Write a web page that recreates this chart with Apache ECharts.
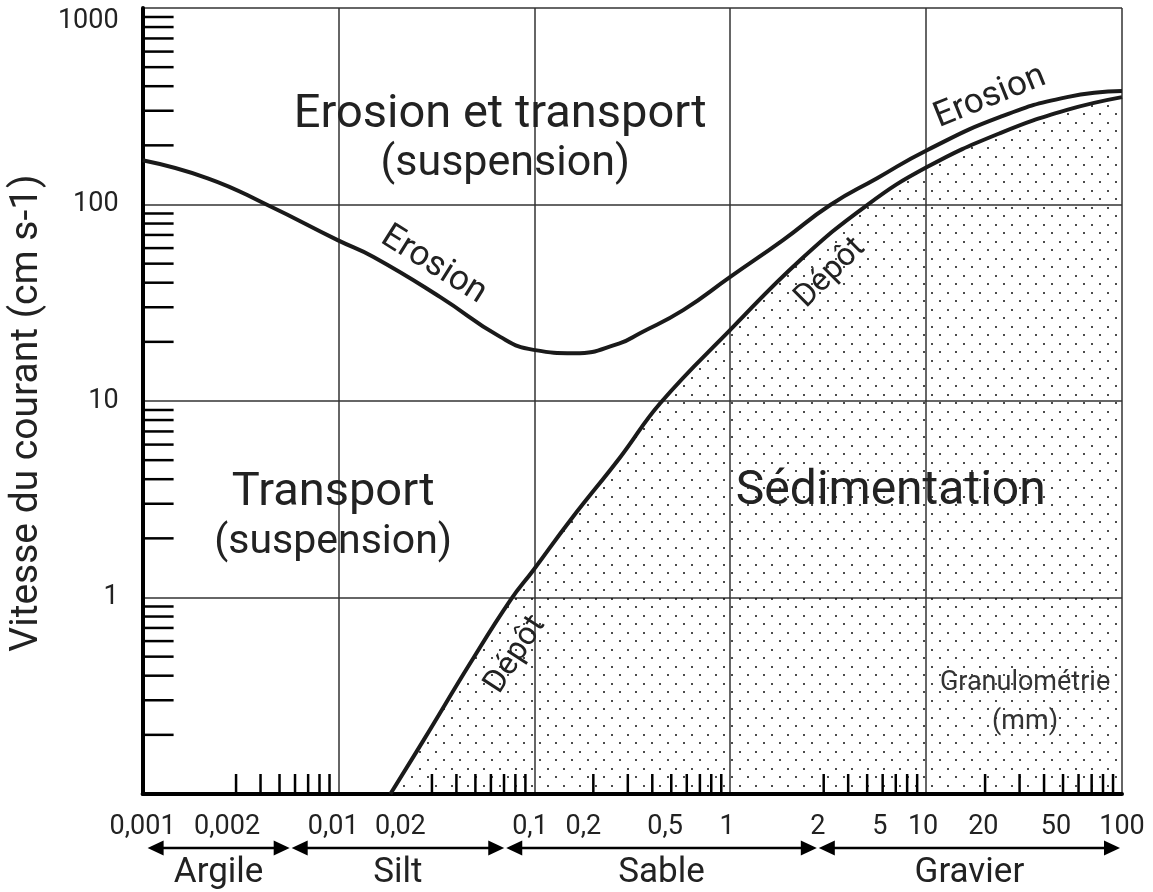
<!DOCTYPE html>
<html><head><meta charset="utf-8">
<script src="https://cdn.jsdelivr.net/npm/echarts@6/dist/echarts.min.js"></script>
<style>html,body{margin:0;padding:0;background:#fff}#c{width:1153px;height:892px}</style>
</head><body><div id="c"></div>
<script>
// ---- data: grain size (mm) vs current velocity (cm s-1) ----
const erosionCurve = [[0.001,168],[0.00215,136],[0.00434,99.4],[0.0099,65.9],[0.0151,54.1],[0.0331,33.8],[0.067,21.2],[0.099,18.2],[0.16,17.5],[0.27,19.6],[0.348,22.2],[0.575,29],[1,42.8],[1.86,65.9],[3.24,99.4],[5.62,136],[10.1,189],[23.9,279],[52.4,352],[100,378]];
const depositCurve = [[0.0184,0.1],[0.0272,0.188],[0.0471,0.464],[0.0755,0.97],[0.099,1.38],[0.153,2.48],[0.275,5.19],[0.44,9.77],[1,23],[2.28,52.2],[5,99.4],[10.1,155],[23.9,231],[52.4,303],[100,352]];
const xTickLabels = ['0,001','0,002','0,01','0,02','0,1','0,2','0,5','1','2','5','10','20','50','100'];
// where each tick label sits on the grain-size axis in the reference (mm)
const xTickLabelPos = [0.001,0.0027,0.0094,0.0207,0.095,0.178,0.465,0.965,2.8,5.8,9.65,19.6,46,100];
const xMinorTicks = [0.003,0.004,0.005,0.006,0.007,0.008,0.009,
  0.03,0.04,0.05,0.06,0.07,0.08,0.09,
  0.2,0.3,0.4,0.5,0.6,0.7,0.8,0.9,
  3,4,5,6,7,8,9,
  20,30,40,50,60,70,80,90];
const yMinorTicks = [0.2,0.3,0.4,0.5,0.6,0.7,0.8,0.9,
  2,3,4,5,6,7,8,9,
  20,30,40,50,60,70,80,90,
  200,300,400,500,600,700,800,900];
const classNames = ['Argile','Silt','Sable','Gravier'];
const classBounds = [0.001,0.0057,0.071,2.8,100];

// ---- layout / style ----
const X_MIN = 0.001, X_MAX = 100, Y_MIN = 0.1, Y_MAX = 1000;
const FONT = 'Roboto, "Noto Sans", sans-serif';
const INK = '#1a1a1a';

const notes = [
  {text:'Erosion et transport', at:[0.067,284], size:47},
  {text:'(suspension)', at:[0.071,160], size:43},
  {text:'Transport', at:[0.0094,3.4], size:47},
  {text:'(suspension)', at:[0.0094,1.9], size:41},
  {text:'Sédimentation', at:[6.6,3.45], size:48},
  {text:'Granulométrie', at:[32,0.367], size:27, color:'#333'},
  {text:'(mm)', at:[32,0.232], size:27, color:'#333'},
  {text:'Erosion', at:[0.0306,49.2], size:35, rot:-32},
  {text:'Erosion', at:[21.2,352], size:35, rot:22},
  {text:'Dépôt', at:[0.080,0.51], size:32, rot:57},
  {text:'Dépôt', at:[3.24,44.8], size:32, rot:45}
];

function makeDots(){
  const c = document.createElement('canvas');
  c.width = 16; c.height = 17;
  const g = c.getContext('2d');
  g.fillStyle = 'rgba(0,0,0,0.7)';
  g.fillRect(3,3,2,2);
  g.fillRect(11,11,2,2);
  return c;
}

const chart = echarts.init(document.getElementById('c'), null, {renderer:'canvas', width:1153, height:892});

const option = {
  animation: false,
  backgroundColor: '#fff',
  grid: {left:142, right:31, top:8, bottom:98, containLabel:false},
  xAxis: {
    type:'log', logBase:10, min:X_MIN, max:X_MAX,
    axisLine:{show:true, onZero:false, lineStyle:{color:'#000', width:4}},
    axisTick:{show:false}, axisLabel:{show:false},
    splitLine:{show:true, lineStyle:{color:'#333', width:1.5}},
    minorTick:{show:false}, minorSplitLine:{show:false}
  },
  yAxis: {
    type:'log', logBase:10, min:Y_MIN, max:Y_MAX,
    axisLine:{show:true, onZero:false, lineStyle:{color:'#000', width:4}},
    axisTick:{show:false},
    axisLabel:{fontSize:27, color:'#222', fontFamily:FONT, margin:24,
      formatter: v => (v < 1 ? '' : String(Math.round(v))),
      verticalAlignMaxLabel:'top'},
    splitLine:{show:true, lineStyle:{color:'#333', width:1.5}},
    name:'Vitesse du courant (cm s-1)', nameLocation:'middle', nameGap:84,
    nameTextStyle:{fontSize:39, color:'#222', fontFamily:FONT, padding:[0,24,0,0]}
  },
  series: [
    {
      type:'line', data: depositCurve, smooth:0.45, symbol:'none', z:4,
      lineStyle:{color:INK, width:4},
      areaStyle:{color:{image: makeDots(), repeat:'repeat'}, origin:'start', opacity:1}
    },
    {
      type:'line', data: erosionCurve, smooth:0.5, symbol:'none', z:5,
      lineStyle:{color:INK, width:4}
    },
    { // x minor ticks (inside)
      type:'custom', z:6, silent:true,
      data: xMinorTicks.map(v => [v, Y_MIN]),
      renderItem: (p, api) => {
        const c = api.coord([api.value(0), Y_MIN]);
        return {type:'line', shape:{x1:c[0], y1:c[1], x2:c[0], y2:c[1]-20}, style:{stroke:'#000', lineWidth:2.5}};
      }
    },
    { // y minor ticks (inside)
      type:'custom', z:6, silent:true,
      data: yMinorTicks.map(v => [X_MIN, v]),
      renderItem: (p, api) => {
        const c = api.coord([X_MIN, api.value(1)]);
        return {type:'line', shape:{x1:c[0], y1:c[1], x2:c[0]+31, y2:c[1]}, style:{stroke:'#000', lineWidth:2.5}};
      }
    },
    { // x tick labels
      type:'custom', z:6, silent:true,
      data: xTickLabelPos.map(v => [v, Y_MIN]),
      renderItem: (p, api) => {
        const c = api.coord([api.value(0), Y_MIN]);
        return {type:'text', x:c[0], y:c[1]+33,
          style:{text:xTickLabels[p.dataIndex], font:'27px '+FONT, fill:'#222', align:'center', verticalAlign:'middle'}};
      }
    },
    { // size-class arrows
      type:'custom', z:6, silent:true,
      data: classNames.map((n,i) => [classBounds[i], classBounds[i+1]]),
      renderItem: (p, api) => {
        const a = api.coord([api.value(0), Y_MIN]);
        const b = api.coord([api.value(1), Y_MIN]);
        const y = a[1] + 54;
        const x0 = a[0] + (p.dataIndex === 0 ? 5 : 1);
        const x1 = b[0] - (p.dataIndex === classNames.length-1 ? 2 : 1);
        const L = 16, H = 7.5;
        return {type:'group', children:[
          {type:'line', shape:{x1:x0+4, y1:y, x2:x1-4, y2:y}, style:{stroke:'#000', lineWidth:2.5}},
          {type:'polygon', shape:{points:[[x0,y],[x0+L,y-H],[x0+L,y+H]]}, style:{fill:'#000'}},
          {type:'polygon', shape:{points:[[x1,y],[x1-L,y-H],[x1-L,y+H]]}, style:{fill:'#000'}},
          {type:'text', x:(x0+x1)/2, y:y+25, style:{text:classNames[p.dataIndex], font:'35px '+FONT, fill:'#222', align:'center', verticalAlign:'middle'}}
        ]};
      }
    },
    { // annotations
      type:'custom', z:7, silent:true,
      data: notes.map(n => n.at),
      renderItem: (p, api) => {
        const n = notes[p.dataIndex];
        const c = api.coord([api.value(0), api.value(1)]);
        return {type:'text', x:c[0], y:c[1], rotation:(n.rot||0)*Math.PI/180,
          style:{text:n.text, font:n.size+'px '+FONT, fill:n.color||'#222', align:'center', verticalAlign:'middle'}};
      }
    }
  ]
};
chart.setOption(option);
</script>
</body></html>
